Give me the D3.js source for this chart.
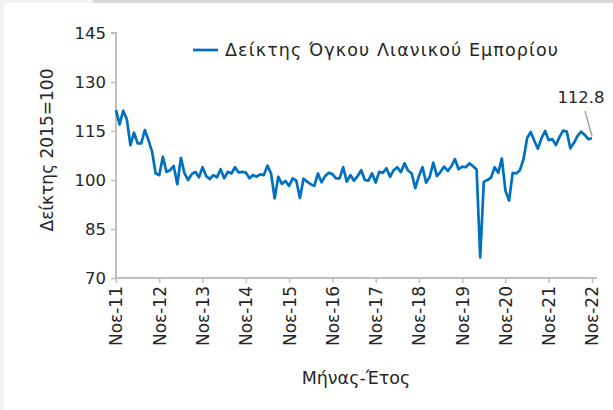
<!DOCTYPE html>
<html><head><meta charset="utf-8">
<script src="https://cdn.jsdelivr.net/npm/d3@7"></script>
<style>
html,body{margin:0;padding:0;background:#f2f2f2;}
svg{display:block;}
</style></head>
<body>
<svg id="c" width="613" height="410"></svg>
<script>
const seriesName = "Δείκτης Όγκου Λιανικού Εμπορίου";
const values = [
121.4,117,121.2,118.6,110.7,114.5,111.2,111.2,115.3,112.2,108.7,102,
101.5,107.1,102.5,103,104.3,98.7,106.8,102,100,101.8,102.5,100.8,
103.9,101.2,100.3,101.5,100.8,103.3,100.5,102.5,102,103.9,102.3,102.5,
102.3,100.5,101.5,101,101.7,101.5,104.4,102,94.4,101,98.8,99.7,
98.2,100.5,99.8,94.5,100.4,99.5,98.7,98.2,102,99.3,101.2,102.2,
101.8,100.5,100.5,103.9,99.5,101.5,99.8,101.2,103,100,99.8,102,
99.2,102.5,102.2,103.6,101,103,103.9,102.4,105.1,102.9,102,97.5,
101.2,103.9,99.2,101,105.3,101.2,102.5,104.1,102.8,104.2,106.4,103.3,
104.1,103.9,105.1,104.2,103.2,76.3,99.5,100,100.7,103.9,102.2,106.6,
96.7,93.7,102.2,102,103,106.3,112.8,114.7,112,109.6,112.8,115,
112.2,112.5,110.7,113.2,115.1,114.8,109.7,111.4,113.5,114.8,113.8,112.5,
112.8
];
const yTicks = [70,85,100,115,130,145];
const xTickLabels = ["Noε-11","Noε-12","Noε-13","Noε-14","Noε-15","Noε-16","Noε-17","Noε-18","Noε-19","Noε-20","Noε-21","Noε-22"];
const yTitle = "Δείκτης 2015=100";
const xTitle = "Μήνας-Έτος";
const lastLabel = "112.8";

const svg = d3.select("#c");
const font = "'DejaVu Sans', sans-serif";
svg.append("rect").attr("x",0).attr("y",0).attr("width",613).attr("height",410).attr("fill","#f2f2f2");
svg.append("rect").attr("x",93).attr("y",0).attr("width",520).attr("height",4).attr("fill","#d9d9d9");
svg.append("rect").attr("x",4).attr("y",3).attr("width",609).attr("height",407).attr("fill","#ffffff");

const x0 = 116, x1 = 592, yTop = 33, yBot = 278;
const x = d3.scaleLinear().domain([0, values.length-1]).range([x0, x1]);
const y = d3.scaleLinear().domain([70,145]).range([yBot, yTop]);

const yAxis = d3.axisLeft(y).tickValues(yTicks).tickSize(5).tickPadding(5).tickFormat(d3.format("d"));
const gy = svg.append("g").attr("transform",`translate(${x0},0)`).call(yAxis);
gy.select(".domain").attr("stroke","#bfbfbf").attr("stroke-width",2).attr("d",`M-5,${yTop}H0V${yBot}`);
gy.selectAll(".tick line").attr("stroke","#bfbfbf").attr("stroke-width",1.5);
gy.selectAll(".tick text").attr("fill","#262626").style("font-family",font).style("font-size","16.5px");

const xTickIdx = xTickLabels.map((_,i)=>i*12);
const xAxis = d3.axisBottom(x).tickValues(xTickIdx).tickSize(5).tickPadding(6).tickFormat((d,i)=>xTickLabels[i]);
const gx = svg.append("g").attr("transform",`translate(0,${yBot})`).call(xAxis);
gx.select(".domain").attr("stroke","#bfbfbf").attr("stroke-width",2).attr("d",`M${x0},0H${x1+5}`);
gx.selectAll(".tick line").attr("stroke","#bfbfbf").attr("stroke-width",1.5);
gx.selectAll(".tick text").attr("fill","#262626").style("font-family",font).style("font-size","17px")
  .attr("transform","rotate(-90)").attr("text-anchor","end").attr("dy","0.35em").attr("x",-8).attr("y",0);

const line = d3.line().x((d,i)=>x(i)).y(d=>y(d));
svg.append("path").datum(values).attr("d",line).attr("fill","none")
  .attr("stroke","#0070c0").attr("stroke-width",2.7).attr("stroke-linejoin","round");

svg.append("line").attr("x1",193).attr("x2",218).attr("y1",50).attr("y2",50).attr("stroke","#0070c0").attr("stroke-width",2.7);
svg.append("text").attr("x",225).attr("y",56).text(seriesName).attr("fill","#262626")
  .attr("textLength",333).attr("lengthAdjust","spacing")
  .style("font-family",font).style("font-size","17.5px");

const li = values.length-1;
svg.append("line").attr("x1",585).attr("x2",x(li)).attr("y1",111).attr("y2",y(values[li])-2).attr("stroke","#a6a6a6").attr("stroke-width",1.5);
svg.append("text").attr("x",581).attr("y",103).attr("text-anchor","middle").text(lastLabel).attr("fill","#262626")
  .style("font-family",font).style("font-size","16.5px");

svg.append("text").attr("transform",`translate(53,150) rotate(-90)`).attr("text-anchor","middle").text(yTitle)
  .attr("fill","#262626").style("font-family",font).style("font-size","17px");
svg.append("text").attr("x",356).attr("y",384).attr("text-anchor","middle").text(xTitle)
  .attr("fill","#262626").style("font-family",font).style("font-size","17.5px");
</script>
</body></html>
